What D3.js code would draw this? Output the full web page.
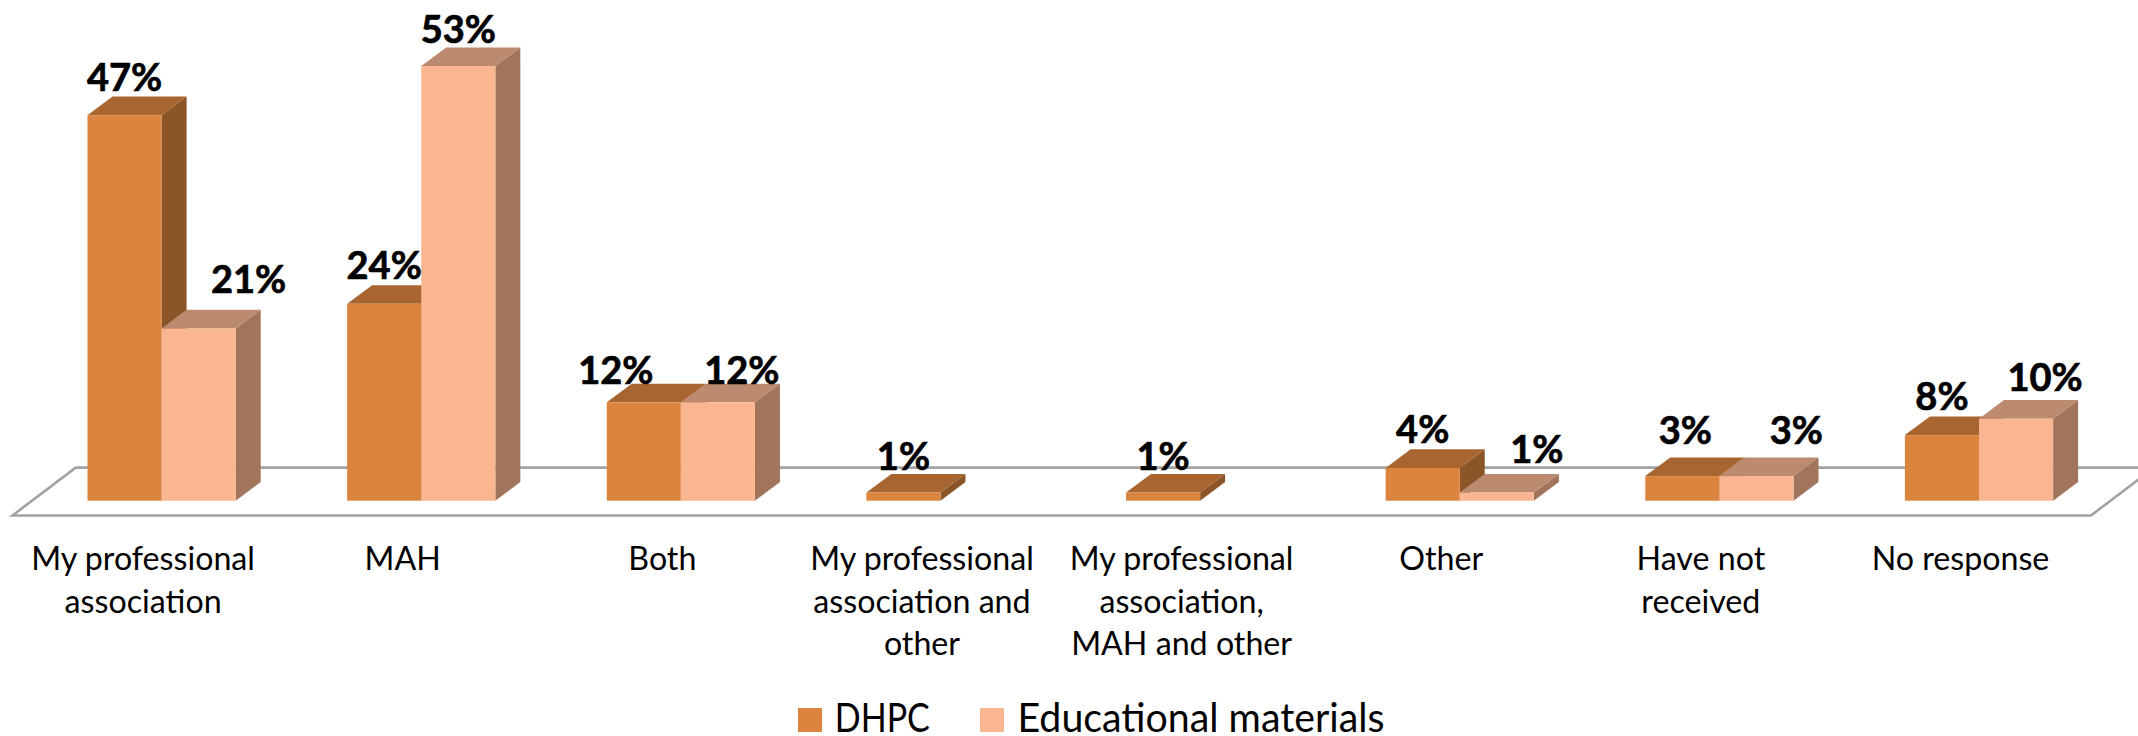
<!DOCTYPE html>
<html><head><meta charset="utf-8">
<script src="https://cdn.jsdelivr.net/npm/d3@7/dist/d3.min.js"></script>
<style>html,body{margin:0;padding:0;background:#fff}svg{display:block}text{font-family:Lato,"Open Sans",sans-serif;fill:#000}</style>
</head><body><svg id="c" width="2138" height="736"></svg>
<script>
const categories = [
  ["My professional","association"],
  ["MAH"],
  ["Both"],
  ["My professional","association and","other"],
  ["My professional","association,","MAH and other"],
  ["Other"],
  ["Have not","received"],
  ["No response"]
];
const seriesNames = ["DHPC","Educational materials"];
const dhpc = [47,24,12,1,1,4,3,8];
const educational = [21,53,12,0,0,1,3,10];
const seriesValues = [dhpc, educational];
const labelShiftX = [[0,0,-28,0,0,0,3,0],[50,0,24,0,0,40,40,29]];
const labelGap = [[24,25,18,22,22,25,32,25],[35,23,18,0,0,29,32,28]];

const depthX=25, depthY=18.6;
const faces=[{front:"#DB843E",top:"#A9652F",side:"#8C5527"},
             {front:"#FAB691",top:"#BC8A6E",side:"#A1745C"}];
const svg=d3.select("#c");
const idx=d3.range(categories.length);
const x0=d3.scaleBand().domain(idx).range([87.5,87.5+7*259.63+148.2]).paddingInner(0.4292).paddingOuter(0);
const x1=d3.scaleBand().domain([0,1]).range([0,x0.bandwidth()]);
const y=d3.scaleLinear().domain([0,53]).range([500.7,66]);
const poly=p=>p.map(a=>a.join(",")).join(" ");

// floor
const floorDX=63.2, floorFrontY=y(0)+14.8, floorBackY=floorFrontY-47.9;
svg.append("polygon")
  .attr("points",poly([[12.5,floorFrontY],[12.5+floorDX,floorBackY],[2091+floorDX,floorBackY],[2091,floorFrontY]]))
  .attr("fill","#fff").attr("stroke","#A3A3A3").attr("stroke-width",2.6);

// bars
idx.forEach(i=>{
  const g=svg.append("g");
  [0,1].forEach(s=>{
    const v=seriesValues[s][i]; if(!v) return;
    const l=x0(i)+x1(s), r=l+x1.bandwidth(), t=y(v), b=y(0), f=faces[s];
    g.append("polygon").attr("points",poly([[r,t],[r+depthX,t-depthY],[r+depthX,b-depthY],[r,b]])).attr("fill",f.side);
    g.append("polygon").attr("points",poly([[l,t],[l+depthX,t-depthY],[r+depthX,t-depthY],[r,t]])).attr("fill",f.top);
    g.append("rect").attr("x",l).attr("y",t).attr("width",r-l).attr("height",b-t).attr("fill",f.front);
  });
});

// value labels
idx.forEach(i=>{[0,1].forEach(s=>{
  const v=seriesValues[s][i]; if(!v) return;
  svg.append("text").attr("x",x0(i)+x1(s)+x1.bandwidth()/2+labelShiftX[s][i]).attr("y",y(v)-labelGap[s][i])
    .attr("text-anchor","middle").attr("font-size",38).attr("font-weight",700)
    .attr("stroke","#000").attr("stroke-width",0.7).text(v+"%");
});});

// category labels
idx.forEach(i=>{
  categories[i].forEach((line,k)=>{
    svg.append("text").attr("x",x0(i)+x0.bandwidth()/2-18.5).attr("y",570+k*42.7)
      .attr("text-anchor","middle").attr("font-size",32.2).text(line);
  });
});

// legend
const legendX=[798,980], legendTextX=[834.8,1017.5], legendTextW=[95,367];
seriesNames.forEach((n,s)=>{
  svg.append("rect").attr("x",legendX[s]).attr("y",708).attr("width",24).attr("height",24).attr("fill",faces[s].front);
  svg.append("text").attr("x",legendTextX[s]).attr("y",732).attr("font-size",40)
    .attr("textLength",legendTextW[s]).attr("lengthAdjust","spacingAndGlyphs").text(n);
});
</script></body></html>
